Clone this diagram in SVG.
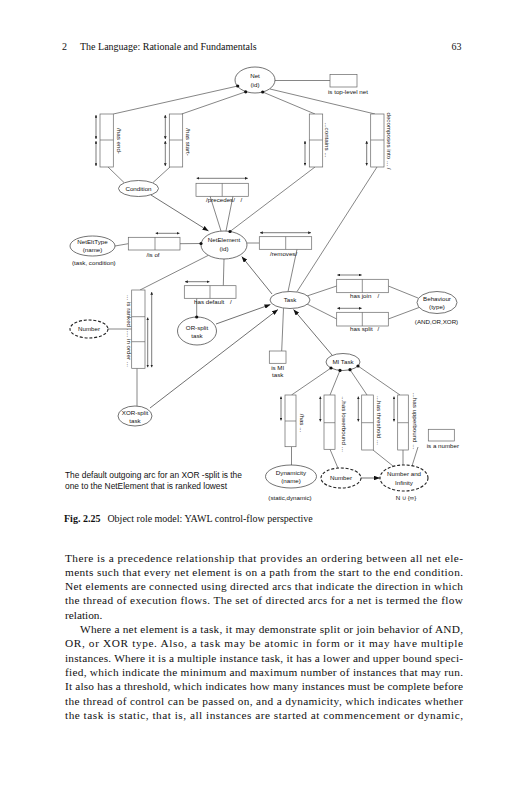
<svg xmlns="http://www.w3.org/2000/svg" width="527" height="800" viewBox="0 0 527 800">
<style>
.bg{fill:#fff}
.ln{stroke:#444;stroke-width:0.65;fill:none}
.el{fill:#fff;stroke:#444;stroke-width:0.75}
.dash{fill:#fff;stroke:#222;stroke-width:1.1;stroke-dasharray:3 1.8}
.box{fill:#fff;stroke:#666;stroke-width:0.7}
.uq{stroke:#222;stroke-width:0.6;fill:none;marker-start:url(#u);marker-end:url(#u)}
.ar{stroke:#333;stroke-width:0.7;fill:none;marker-end:url(#a)}
.dot{fill:#111}
.t{font-family:"Liberation Sans",Arial,sans-serif;font-size:6.2px;fill:#111;text-anchor:middle}
.l{font-family:"Liberation Sans",Arial,sans-serif;font-size:6.2px;fill:#111}
.r{font-family:"Liberation Sans",Arial,sans-serif;font-size:6.2px;fill:#111;text-anchor:middle}
.note{font-family:"Liberation Sans",Arial,sans-serif;font-size:8.4px;fill:#111}
.hd{font-family:"Liberation Serif","Times New Roman",serif;font-size:10px;fill:#111}
.cap{font-family:"Liberation Serif","Times New Roman",serif;font-size:10px;fill:#111}
.p{font-family:"Liberation Serif","Times New Roman",serif;font-size:11.3px;fill:#111}
</style>
<defs>
<marker id="u" viewBox="0 0 6 6" refX="6" refY="3" markerWidth="2.8" markerHeight="2.8" markerUnits="userSpaceOnUse" orient="auto-start-reverse"><path d="M0,0 L6,3 L0,6 z" fill="#222"/></marker>
<marker id="a" viewBox="0 0 8 6" refX="8" refY="3" markerWidth="6" markerHeight="4.5" markerUnits="userSpaceOnUse" orient="auto"><path d="M0,0 L8,3 L0,6 z" fill="#111"/></marker>
</defs>
<rect class="bg" x="0" y="0" width="527" height="800"/>

<g id="header">
<text class="hd" x="62" y="50">2</text>
<text class="hd" x="80" y="50">The Language: Rationale and Fundamentals</text>
<text class="hd" x="451.5" y="50">63</text>
</g>

<g id="connectors">
<line class="ln" x1="237.7" y1="86" x2="113.3" y2="114"/>
<line class="ln" x1="245.7" y1="91.8" x2="181.7" y2="114"/>
<line class="ln" x1="262.7" y1="92" x2="315" y2="114"/>
<line class="ln" x1="270" y1="89" x2="375" y2="114"/>
<line class="ln" x1="275" y1="80.5" x2="330" y2="80.5"/>
<line class="ln" x1="108" y1="167" x2="124" y2="182.5"/>
<line class="ln" x1="170" y1="167" x2="153" y2="182.5"/>
<line class="ar" x1="151" y1="195" x2="208.5" y2="231"/>
<line class="ln" x1="210" y1="196" x2="221" y2="231"/>
<line class="ln" x1="233" y1="196" x2="226" y2="231"/>
<line class="ln" x1="315" y1="167" x2="230" y2="231.5"/>
<line class="ln" x1="115" y1="246" x2="128.3" y2="243.7"/>
<line class="ln" x1="180" y1="243.7" x2="201" y2="243.5"/>
<line class="ln" x1="247" y1="243" x2="259.3" y2="243"/>
<line class="ln" x1="297" y1="249.3" x2="288" y2="291.6"/>
<line class="ln" x1="377" y1="167" x2="297" y2="291.6"/>
<line class="ar" x1="272" y1="294" x2="241.7" y2="256.5"/>
<line class="ln" x1="224" y1="259" x2="223.3" y2="285.7"/>
<line class="ln" x1="196.7" y1="298.3" x2="196.7" y2="317"/>
<line class="ar" x1="216" y1="324" x2="270.5" y2="304.5"/>
<line class="ln" x1="208" y1="255.5" x2="140" y2="290"/>
<line class="ln" x1="108" y1="329" x2="131.7" y2="329"/>
<line class="ln" x1="137" y1="368.3" x2="137" y2="406"/>
<line class="ar" x1="150" y1="408" x2="278" y2="309.5"/>
<line class="ln" x1="307" y1="296" x2="336.7" y2="286"/>
<line class="ln" x1="388.3" y1="286" x2="418" y2="298"/>
<line class="ln" x1="307" y1="304" x2="336.7" y2="319"/>
<line class="ln" x1="388.3" y1="319" x2="419" y2="307.5"/>
<line class="ln" x1="281.7" y1="351" x2="283.5" y2="308.3"/>
<line class="ar" x1="332" y1="355" x2="293.5" y2="309.5"/>
<line class="ln" x1="331" y1="368" x2="291.5" y2="395"/>
<line class="ln" x1="340" y1="370.4" x2="330" y2="395"/>
<line class="ln" x1="350" y1="369.7" x2="367" y2="395"/>
<line class="ln" x1="358" y1="366" x2="400" y2="395"/>
<line class="ln" x1="291.5" y1="446.7" x2="291.5" y2="465"/>
<line class="ln" x1="330" y1="449.3" x2="338" y2="468.2"/>
<line class="ar" x1="361" y1="478" x2="380" y2="478"/>
<line class="ln" x1="373" y1="450" x2="393" y2="466"/>
<line class="ln" x1="403" y1="450" x2="403" y2="465"/>
<line class="ln" x1="418" y1="447" x2="412" y2="466"/>
</g>

<g id="Net">
<ellipse class="el" cx="255" cy="80" rx="20" ry="13"/>
<text class="t" x="255" y="78">Net</text>
<text class="t" x="255" y="86.5">(id)</text>
<circle class="dot" cx="237.7" cy="86" r="1.6"/>
<circle class="dot" cx="245.7" cy="91.8" r="1.6"/>
<circle class="dot" cx="262.7" cy="92" r="1.6"/>
</g>

<g id="isTopLevelNet">
<rect class="box" x="330" y="74.5" width="27" height="12.5"/>
<text class="l" x="328" y="93.5">is top-level net</text>
</g>

<g id="hasEnd">
<rect class="box" x="100" y="114" width="13.3" height="53"/>
<line class="box" x1="100" y1="140" x2="113.3" y2="140"/>
<line class="uq" x1="96" y1="115" x2="96" y2="139"/>
<line class="uq" x1="96" y1="141" x2="96" y2="166"/>
<text class="r" transform="translate(116.6,141) rotate(90)">/has end-</text>
</g>

<g id="hasStart">
<rect class="box" x="169.3" y="114" width="13.4" height="53"/>
<line class="box" x1="169.3" y1="140" x2="182.7" y2="140"/>
<line class="uq" x1="165.3" y1="115" x2="165.3" y2="139"/>
<line class="uq" x1="165.3" y1="141" x2="165.3" y2="166"/>
<text class="r" transform="translate(186.3,142) rotate(90)">/has start-</text>
</g>

<g id="contains">
<rect class="box" x="309.3" y="114" width="13.4" height="53"/>
<line class="box" x1="309.3" y1="140" x2="322.7" y2="140"/>
<line class="uq" x1="305" y1="141" x2="305" y2="165.5"/>
<text class="r" transform="translate(325,140) rotate(90)">...contains ...</text>
</g>

<g id="decomposes">
<rect class="box" x="370.7" y="114" width="13.3" height="53"/>
<line class="box" x1="370.7" y1="140" x2="384" y2="140"/>
<line class="uq" x1="366.7" y1="141" x2="366.7" y2="165.5"/>
<text class="r" transform="translate(386.5,141) rotate(90)">decomposes into ... /</text>
</g>

<g id="Condition">
<ellipse class="el" cx="138.5" cy="188.5" rx="20" ry="8"/>
<text class="t" x="138.5" y="190.5">Condition</text>
</g>

<g id="precedes">
<rect class="box" x="196" y="183.3" width="52.3" height="13"/>
<line class="box" x1="222.2" y1="183.3" x2="222.2" y2="196.3"/>
<line class="uq" x1="196.5" y1="178.3" x2="247.8" y2="178.3"/>
<text class="l" x="206" y="202">/precedes/</text>
<text class="l" x="240.5" y="202">/</text>
</g>

<g id="NetEltType">
<ellipse class="el" cx="92.5" cy="246" rx="22.5" ry="10"/>
<text class="t" x="92.5" y="244">NetEltType</text>
<text class="t" x="92.5" y="252">(name)</text>
<text class="l" x="72" y="265">(task, condition)</text>
</g>

<g id="isOf">
<rect class="box" x="128.3" y="237.3" width="51.7" height="12.7"/>
<line class="box" x1="155" y1="237.3" x2="155" y2="250"/>
<line class="uq" x1="155.5" y1="233.3" x2="179.5" y2="233.3"/>
<text class="l" x="146.5" y="257">/is of</text>
</g>

<g id="NetElement">
<ellipse class="el" cx="224" cy="245" rx="23" ry="14"/>
<text class="t" x="224" y="242">NetElement</text>
<text class="t" x="224" y="250.5">(id)</text>
<circle class="dot" cx="201" cy="243.5" r="1.6"/>
<circle class="dot" cx="230" cy="231.5" r="1.6"/>
</g>

<g id="removes">
<rect class="box" x="259.3" y="236.7" width="52.4" height="12.6"/>
<line class="box" x1="285.7" y1="236.7" x2="285.7" y2="249.3"/>
<line class="uq" x1="260" y1="232.7" x2="311" y2="232.7"/>
<text class="l" x="270" y="256">/removes/</text>
</g>

<g id="hasDefault">
<rect class="box" x="184.3" y="285.7" width="51.7" height="12.6"/>
<line class="box" x1="210" y1="285.7" x2="210" y2="298.3"/>
<line class="uq" x1="185" y1="281.7" x2="209.5" y2="281.7"/>
<text class="l" x="194" y="304">has default</text>
<text class="l" x="230" y="304">/</text>
</g>

<g id="Task">
<ellipse class="el" cx="290" cy="300" rx="20" ry="8.5"/>
<text class="t" x="290" y="302">Task</text>
</g>

<g id="hasJoin">
<rect class="box" x="336.7" y="279.3" width="51.6" height="13.4"/>
<line class="box" x1="362.3" y1="279.3" x2="362.3" y2="292.7"/>
<line class="uq" x1="337.3" y1="275" x2="361.7" y2="275"/>
<text class="l" x="350" y="298">has join</text>
<text class="l" x="377.5" y="298">/</text>
</g>

<g id="hasSplit">
<rect class="box" x="336.7" y="312.3" width="51.6" height="13.7"/>
<line class="box" x1="362.3" y1="312.3" x2="362.3" y2="326"/>
<line class="uq" x1="337.3" y1="308.3" x2="361.7" y2="308.3"/>
<text class="l" x="350" y="331">has split</text>
<text class="l" x="377.5" y="331">/</text>
</g>

<g id="Behaviour">
<ellipse class="el" cx="437" cy="302.5" rx="20" ry="11"/>
<text class="t" x="437" y="300.5">Behaviour</text>
<text class="t" x="437" y="308.5">(type)</text>
<text class="t" x="436.5" y="323.5">(AND,OR,XOR)</text>
</g>

<g id="NumberLeft">
<ellipse class="dash" cx="89" cy="329" rx="19" ry="9"/>
<text class="t" x="89" y="331">Number</text>
</g>

<g id="isRanked">
<rect class="box" x="131.7" y="290" width="13.3" height="78.3"/>
<line class="box" x1="131.7" y1="316.7" x2="145" y2="316.7"/>
<line class="box" x1="131.7" y1="341.7" x2="145" y2="341.7"/>
<line class="uq" x1="151.7" y1="292" x2="151.7" y2="367.3"/>
<line class="uq" x1="147.7" y1="317.5" x2="147.7" y2="367.3"/>
<text class="r" transform="translate(126.6,331) rotate(90)">... is ranked ..... in order ...</text>
</g>

<g id="ORsplit">
<ellipse class="el" cx="197" cy="331" rx="19.5" ry="14"/>
<text class="t" x="197" y="329.5">OR-split</text>
<text class="t" x="197" y="338">task</text>
<circle class="dot" cx="196.7" cy="317" r="1.6"/>
</g>

<g id="XORsplit">
<ellipse class="el" cx="135" cy="416" rx="17" ry="10"/>
<text class="t" x="135" y="414.5">XOR-split</text>
<text class="t" x="135" y="423">task</text>
</g>

<g id="isMITask">
<rect class="box" x="269.3" y="351" width="16.7" height="12.3"/>
<text class="t" x="277.7" y="369.5">is MI</text>
<text class="t" x="277.7" y="376.5">task</text>
</g>

<g id="MITask">
<ellipse class="el" cx="343" cy="362" rx="17" ry="8.5"/>
<text class="t" x="343" y="364">MI Task</text>
<circle class="dot" cx="331" cy="368" r="1.6"/>
<circle class="dot" cx="340" cy="370.4" r="1.6"/>
<circle class="dot" cx="350" cy="369.7" r="1.6"/>
<circle class="dot" cx="358" cy="366" r="1.6"/>
</g>

<g id="has">
<rect class="box" x="285" y="395" width="11" height="51.7"/>
<line class="box" x1="285" y1="421" x2="296" y2="421"/>
<line class="uq" x1="281" y1="396.5" x2="281" y2="420.5"/>
<text class="r" transform="translate(300,423) rotate(90)">/has ...</text>
</g>

<g id="hasLowerbound">
<rect class="box" x="324" y="395" width="11" height="54.3"/>
<line class="box" x1="324" y1="422.7" x2="335" y2="422.7"/>
<line class="uq" x1="320.3" y1="396.5" x2="320.3" y2="421.5"/>
<text class="r" transform="translate(341.5,424) rotate(90)">...has lowerbound ...</text>
</g>

<g id="hasThreshold">
<rect class="box" x="361.7" y="395" width="11.6" height="55"/>
<line class="box" x1="361.7" y1="422.7" x2="373.3" y2="422.7"/>
<line class="uq" x1="358.3" y1="396.5" x2="358.3" y2="421.5"/>
<text class="r" transform="translate(377.3,420.5) rotate(90)">...has threshold ...</text>
</g>

<g id="hasUpperbound">
<rect class="box" x="397.7" y="395" width="10.6" height="55"/>
<line class="box" x1="397.7" y1="422.7" x2="408.3" y2="422.7"/>
<line class="uq" x1="394" y1="396.5" x2="394" y2="421.5"/>
<text class="r" transform="translate(413.3,421) rotate(90)">...has upperbound ...</text>
</g>

<g id="isANumber">
<rect class="box" x="428.3" y="429.3" width="26" height="11.7"/>
<text class="l" x="426.7" y="447.5">is a number</text>
</g>

<g id="Dynamicity">
<ellipse class="el" cx="291" cy="476.5" rx="25.5" ry="11.5"/>
<text class="t" x="291" y="474.5">Dynamicity</text>
<text class="t" x="291" y="483">(name)</text>
<text class="t" x="290" y="500">(static,dynamic)</text>
</g>

<g id="NumberBottom">
<ellipse class="dash" cx="341" cy="478" rx="20" ry="10"/>
<text class="t" x="341" y="480">Number</text>
</g>

<g id="NumberAndInfinity">
<ellipse class="dash" cx="404" cy="478" rx="24" ry="13"/>
<text class="t" x="404" y="476">Number and</text>
<text class="t" x="404" y="484.5">Infinity</text>
<text class="t" x="406" y="500">N ∪ {∞}</text>
</g>

<g id="note">
<text class="note" x="65" y="477.5">The default outgoing arc for an XOR -split is the</text>
<text class="note" x="65" y="489">one to the NetElement that is ranked lowest</text>
</g>

<g id="caption">
<text class="cap" x="64" y="522"><tspan font-weight="bold">Fig. 2.25</tspan><tspan dx="7">Object role model: YAWL control-flow perspective</tspan></text>
</g>

<g id="body">
<text class="p" x="65" y="561.5" textLength="398" lengthAdjust="spacing">There is a precedence relationship that provides an ordering between all net ele-</text>
<text class="p" x="65" y="575.8" textLength="398" lengthAdjust="spacing">ments such that every net element is on a path from the start to the end condition.</text>
<text class="p" x="65" y="590.1" textLength="398" lengthAdjust="spacing">Net elements are connected using directed arcs that indicate the direction in which</text>
<text class="p" x="65" y="604.4" textLength="398" lengthAdjust="spacing">the thread of execution flows. The set of directed arcs for a net is termed the flow</text>
<text class="p" x="65" y="618.7">relation.</text>
<text class="p" x="80" y="633" textLength="383" lengthAdjust="spacing">Where a net element is a task, it may demonstrate split or join behavior of AND,</text>
<text class="p" x="65" y="647.3" textLength="398" lengthAdjust="spacing">OR, or XOR type. Also, a task may be atomic in form or it may have multiple</text>
<text class="p" x="65" y="661.6" textLength="398" lengthAdjust="spacing">instances. Where it is a multiple instance task, it has a lower and upper bound speci-</text>
<text class="p" x="65" y="675.9" textLength="398" lengthAdjust="spacing">fied, which indicate the minimum and maximum number of instances that may run.</text>
<text class="p" x="65" y="690.2" textLength="398" lengthAdjust="spacing">It also has a threshold, which indicates how many instances must be complete before</text>
<text class="p" x="65" y="704.5" textLength="398" lengthAdjust="spacing">the thread of control can be passed on, and a dynamicity, which indicates whether</text>
<text class="p" x="65" y="718.8" textLength="398" lengthAdjust="spacing">the task is static, that is, all instances are started at commencement or dynamic,</text>
</g>
</svg>
